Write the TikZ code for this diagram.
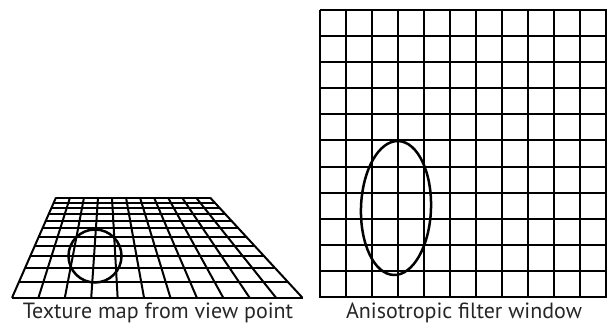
\documentclass[tikz,border=0pt]{standalone}
\usepackage{fontspec}
\setmainfont{PT Sans}
\begin{document}
\begin{tikzpicture}[x=1pt,y=-1pt,
  gridline/.style={line width=2pt,black},
  ring/.style={line width=2.5pt,black},
  caption/.style={anchor=base,inner sep=0pt,font=\fontsize{22}{26}\selectfont,text=black!85}]
\useasboundingbox (0,0) rectangle (608,324);
% ---- left: texture map in perspective ----
\foreach \i in {0,...,11}{
  \pgfmathsetmacro{\zz}{1.886-0.886*\i/11}
  \pgfmathsetmacro{\yy}{84.3+213.5/\zz}
  \pgfmathsetmacro{\uu}{(\yy-197.5)/100.3}
  \pgfmathsetmacro{\xl}{56-44*\uu}
  \pgfmathsetmacro{\xr}{210+92.5*\uu}
  \draw[gridline] (\xl,\yy) -- (\xr,\yy);
}
\foreach \j in {0,...,11}{
  \pgfmathsetmacro{\xt}{56+14*\j}
  \pgfmathsetmacro{\xb}{12+26.409*\j}
  \draw[gridline] (\xt,197.5) -- (\xb,297.8);
}
\draw[ring] (95,256) circle[radius=26.5];
% ---- right: anisotropic filter window ----
\foreach \j in {0,...,11}{
  \draw[gridline] (319.5+26.09*\j,9.5) -- (319.5+26.09*\j,297.5);
  \draw[gridline] (319.5,9.5+26.18*\j) -- (606.5,9.5+26.18*\j);
}
\draw[ring,rotate around={-2:(396,208)}] (396,208) ellipse[x radius=35,y radius=67];
% ---- captions ----
\node[caption] (capL) at (158,318.5) {Texture map from view point};
\node[caption] (capR) at (464,318.5) {Anisotropic filter window};
\end{tikzpicture}
\end{document}
